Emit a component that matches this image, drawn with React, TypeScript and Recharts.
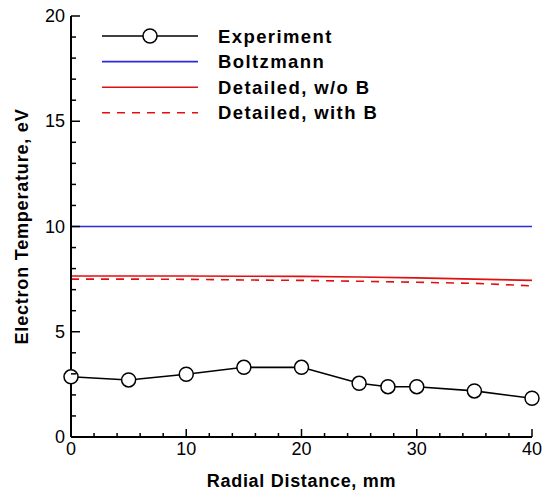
import React from 'react';
import { LineChart, Line, XAxis, YAxis, Legend } from 'recharts';

// measured radial positions (mm) and electron temperature (eV)
const expX = [0, 5, 10, 15, 20, 25, 27.5, 30, 35, 40];
const expT = [2.86, 2.71, 2.98, 3.31, 3.31, 2.55, 2.39, 2.39, 2.19, 1.84];

// model curves
const modelX = [0, 5, 10, 15, 20, 25, 30, 35, 40];
const boltzT = [10, 10, 10, 10, 10, 10, 10, 10, 10];
const detNoB = [7.65, 7.65, 7.65, 7.64, 7.63, 7.6, 7.56, 7.5, 7.44];
const detWithB = [7.5, 7.5, 7.49, 7.46, 7.44, 7.4, 7.35, 7.3, 7.18];

const xTicks = [0, 2, 4, 6, 8, 10, 12, 14, 16, 18, 20, 22, 24, 26, 28, 30, 32, 34, 36, 38, 40];
const yTicks = Array.from({ length: 21 }, (_, i) => i);

const expData = expX.map((x, i) => ({ x, t: expT[i] }));
const boltzData = modelX.map((x, i) => ({ x, t: boltzT[i] }));
const noBData = modelX.map((x, i) => ({ x, t: detNoB[i] }));
const withBData = modelX.map((x, i) => ({ x, t: detWithB[i] }));

const FONT = '"Liberation Sans", Arial, sans-serif';

const XTick = (props: any) => {
    const { x, y, payload } = props;
    const major = payload.value % 10 === 0;
    return (
        <g>
            <line x1={x} x2={x} y1={y} y2={y - (major ? 8 : 4)} stroke="#000" strokeWidth={1.5} />
            {major && (
                <text x={x} y={y + 18} textAnchor="middle" fontSize={18} fontFamily={FONT} fill="#000">
                    {payload.value}
                </text>
            )}
        </g>
    );
};

const YTick = (props: any) => {
    const { x, y, payload } = props;
    const major = payload.value % 5 === 0;
    return (
        <g>
            <line x1={x} x2={x + (major ? 9 : 5)} y1={y} y2={y} stroke="#000" strokeWidth={1.5} />
            {major && (
                <text x={x - 6} y={y + 6} textAnchor="end" fontSize={18} fontFamily={FONT} fill="#000">
                    {payload.value}
                </text>
            )}
        </g>
    );
};

const legendRows = [
    { name: 'Experiment', color: '#000', dash: undefined as string | undefined, marker: true },
    { name: 'Boltzmann', color: '#2b2bdb', dash: undefined, marker: false },
    { name: 'Detailed, w/o B', color: '#e01010', dash: undefined, marker: false },
    { name: 'Detailed, with B', color: '#e01010', dash: '8 7', marker: false },
];

const renderLegend = () => (
    <svg width={300} height={100} style={{ overflow: 'visible', display: 'block' }}>
        {legendRows.map((r, i) => {
            const y = 10 + i * 25.6;
            return (
                <g key={r.name}>
                    <line x1={2} x2={98} y1={y} y2={y} stroke={r.color} strokeWidth={1.6} strokeDasharray={r.dash} />
                    {r.marker && <circle cx={50} cy={y} r={7} fill="#fff" stroke="#000" strokeWidth={1.5} />}
                    <text x={118} y={y + 6.5} fontSize={18.5} fontWeight="bold" fontFamily={FONT} letterSpacing={1.4} fill="#000">
                        {r.name}
                    </text>
                </g>
            );
        })}
    </svg>
);

export default function App() {
    return (
        <div style={{ position: 'absolute', left: 0, top: 0, background: '#fff' }}>
            <LineChart width={547} height={492} margin={{ top: 16, right: 15, left: 0, bottom: 0 }}>
                <XAxis
                    dataKey="x"
                    type="number"
                    domain={[0, 40]}
                    ticks={xTicks}
                    interval={0}
                    tick={<XTick />}
                    tickLine={false}
                    tickSize={0}
                    tickMargin={0}
                    height={55}
                    axisLine={{ stroke: '#000', strokeWidth: 2 }}
                    allowDuplicatedCategory={false}
                    label={{
                        value: 'Radial Distance, mm',
                        position: 'insideBottom',
                        offset: 5,
                        style: { fontSize: 18, fontWeight: 'bold', fontFamily: FONT, fill: '#000', letterSpacing: 0.7 },
                    }}
                />
                <YAxis
                    dataKey="t"
                    type="number"
                    domain={[0, 20]}
                    ticks={yTicks}
                    interval={0}
                    tick={<YTick />}
                    tickLine={false}
                    tickSize={0}
                    tickMargin={0}
                    width={71}
                    axisLine={{ stroke: '#000', strokeWidth: 2 }}
                    label={{
                        value: 'Electron Temperature, eV',
                        angle: -90,
                        position: 'insideLeft',
                        offset: 22,
                        textAnchor: 'middle',
                        style: { fontSize: 18, fontWeight: 'bold', fontFamily: FONT, fill: '#000', letterSpacing: 0.8, textAnchor: 'middle' },
                    }}
                />
                <Legend
                    content={renderLegend}
                    layout="horizontal"
                    verticalAlign="middle"
                    align="center"
                    wrapperStyle={{ top: 26, left: 100, width: 300 }}
                />
                <Line type="linear" data={boltzData} dataKey="t" stroke="#2b2bdb" strokeWidth={1.6} dot={false} isAnimationActive={false} />
                <Line type="linear" data={noBData} dataKey="t" stroke="#e01010" strokeWidth={1.6} dot={false} isAnimationActive={false} />
                <Line type="linear" data={withBData} dataKey="t" stroke="#e01010" strokeWidth={1.6} strokeDasharray="8 7" dot={false} isAnimationActive={false} />
                <Line
                    type="linear"
                    data={expData}
                    dataKey="t"
                    stroke="#000"
                    strokeWidth={1.6}
                    dot={{ r: 7, fill: '#fff', stroke: '#000', strokeWidth: 1.5 }}
                    isAnimationActive={false}
                />
            </LineChart>
        </div>
    );
}
